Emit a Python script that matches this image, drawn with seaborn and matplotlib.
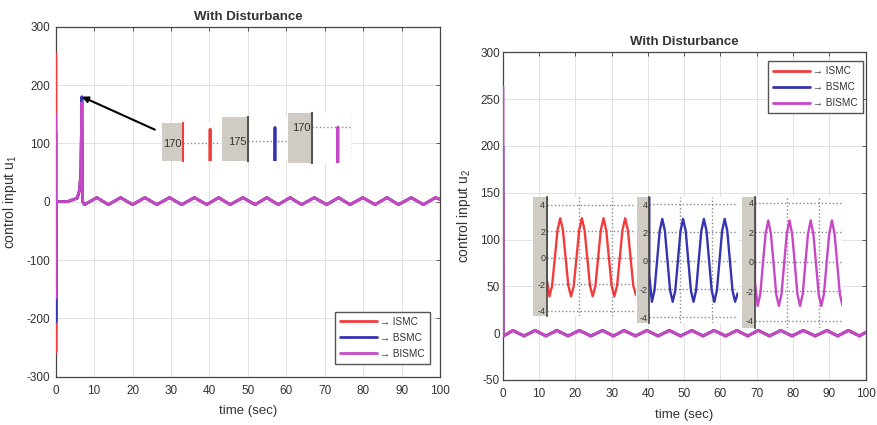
import numpy as np
import pandas as pd
import matplotlib
matplotlib.use("Agg")
import matplotlib.pyplot as plt
import seaborn as sns
from matplotlib.patches import Rectangle

# ---------------- data ----------------
methods = ["ISMC", "BSMC", "BISMC"]
legend_labels = ["\u2192 ISMC", "\u2192 BSMC", "\u2192 BISMC"]
colors = ["#f23c3c", "#3434b0", "#c648c6"]

# u1 : initial transient + spike
t_u1_start = [0.0, 0.02, 0.06, 0.15, 0.4, 3.0, 5.6, 6.2, 6.55, 6.8, 7.0]
u1_ismc_start = [0, 254, -258, 0, 0, 0, 6, 20, 50, 176, 0]
u1_bsmc_start = [0, 120, -206, 0, 0, 0, 6, 20, 50, 180, 0]
u1_bismc_start = [0, 150, -165, 0, 0, 0, 6, 20, 50, 170, 0]
# u1 : steady oscillation (troughs / peaks)
t_u1_wave = [7.5, 10.7, 13.7, 16.9, 20.0, 23.2, 26.3, 29.6, 32.8, 36.1, 39.3,
             42.4, 45.4, 48.7, 51.9, 54.9, 57.9, 61.0, 64.0, 67.3, 70.5, 73.6,
             76.6, 79.9, 83.1, 86.2, 89.2, 92.5, 95.7, 98.8, 100.0]
u1_wave = [-5, 7, -5, 7, -5, 7, -5, 7, -5, 7, -5, 7, -5, 7, -5, 7, -5, 7,
           -5, 7, -5, 7, -5, 7, -5, 7, -5, 7, -5, 7, 4]

# u2 : initial spike
t_u2_start = [0.0, 0.03, 0.08]
u2_ismc_start = [0, 150, 0]
u2_bsmc_start = [0, 200, 0]
u2_bismc_start = [0, 263, 0]
# u2 : steady oscillation
t_u2_wave = [0.3, 2.8, 5.9, 8.9, 11.9, 14.9, 18.0, 21.1, 24.3, 27.5, 30.5,
             33.4, 36.6, 39.7, 42.8, 45.9, 49.0, 52.1, 55.2, 58.2, 61.4, 64.5,
             67.5, 70.4, 73.5, 76.6, 79.7, 82.8, 86.1, 89.3, 92.3, 95.2, 98.3,
             100.0]
u2_wave = [-3, 3, -3, 3, -3, 3, -3, 3, -3, 3, -3, 3, -3, 3, -3, 3, -3, 3,
           -3, 3, -3, 3, -3, 3, -3, 3, -3, 3, -3, 3, -3, 3, -3, 1]

# zoomed u2 insets (samples every 1/8 period)
ins_ismc = [6.0, -1.6,
            -2.9, -2.1, 0.0, 2.1, 3.0, 2.1, 0.0, -2.1,
            -2.9, -2.1, 0.0, 2.1, 3.0, 2.1, 0.0, -2.1,
            -2.9, -2.1, 0.0, 2.1, 3.0, 2.1, 0.0, -2.1,
            -2.9, -2.1, 0.0, 2.1, 3.0, 2.1, 0.0, -2.1,
            -2.8]
ins_bsmc = [6.0, -1.0,
            -2.9, -2.1, 0.0, 2.1, 2.95, 2.1, 0.0, -2.1,
            -2.9, -2.1, 0.0, 2.1, 2.95, 2.1, 0.0, -2.1,
            -2.9, -2.1, 0.0, 2.1, 2.95, 2.1, 0.0, -2.1,
            -2.9, -2.1, 0.0, 2.1, 2.95, 2.1, 0.0, -2.1,
            -2.9, -2.3]
ins_bismc = [6.0, -1.4,
             -3.0, -2.2, -0.1, 1.9, 2.8, 1.9, -0.1, -2.2,
             -3.0, -2.2, -0.1, 1.9, 2.8, 1.9, -0.1, -2.2,
             -3.0, -2.2, -0.1, 1.9, 2.8, 1.9, -0.1, -2.2,
             -3.0, -2.2, -0.1, 1.9, 2.8, 1.9, -0.1, -2.2,
             -3.0]

u1_y_ticks = [-300, -200, -100, 0, 100, 200, 300]
u2_y_ticks = [-50, 0, 50, 100, 150, 200, 250, 300]
x_ticks = [0, 10, 20, 30, 40, 50, 60, 70, 80, 90, 100]
spike_ticks = [170, 175, 170]
inset_ticks = [-4, -2, 0, 2, 4]


def long_frame(t_start, starts, t_wave, wave):
    parts = []
    for m, s in zip(methods, starts):
        parts.append(pd.DataFrame({"t": list(t_start) + list(t_wave),
                                   "u": list(s) + list(wave),
                                   "method": m}))
    return pd.concat(parts, ignore_index=True)


df1 = long_frame(t_u1_start, [u1_ismc_start, u1_bsmc_start, u1_bismc_start],
                 t_u1_wave, u1_wave)
df2 = long_frame(t_u2_start, [u2_ismc_start, u2_bsmc_start, u2_bismc_start],
                 t_u2_wave, u2_wave)

# ---------------- styling ----------------
sns.set_theme(style="white")
plt.rcParams["font.family"] = ["Liberation Sans", "DejaVu Sans"]
plt.rcParams["text.color"] = "#333333"
plt.rcParams["axes.labelcolor"] = "#333333"
plt.rcParams["axes.unicode_minus"] = False
plt.rcParams["lines.solid_joinstyle"] = "round"

W, H = 878, 425
fig = plt.figure(figsize=(W / 100, H / 100), dpi=100)
fig.patch.set_facecolor("white")


def frac(x0, y0, x1, y1):
    return [x0 / W, 1 - y1 / H, (x1 - x0) / W, (y1 - y0) / H]


ax1 = fig.add_axes(frac(55.7, 26.7, 440.0, 376.7))
ax2 = fig.add_axes(frac(502.7, 52.3, 865.7, 380.0))


def style_main(ax, yticks, ylim, ylabel, ypad, ylabelpad):
    ax.set_xlim(0, 100)
    ax.set_ylim(*ylim)
    ax.set_xticks(x_ticks)
    ax.set_yticks(yticks)
    ax.grid(True, color="#e2e2e2", lw=0.7)
    ax.set_axisbelow(True)
    ax.tick_params(direction="in", top=True, right=True, length=3,
                   width=0.7, color="#555555", labelcolor="#333333",
                   labelsize=8.5)
    ax.tick_params(axis="x", pad=6)
    ax.tick_params(axis="y", pad=ypad)
    for s in ax.spines.values():
        s.set_color("#444444")
        s.set_linewidth(0.9)
    ax.set_xlabel("time (sec)", fontsize=9.5, labelpad=6)
    ax.set_ylabel(ylabel, fontsize=10, labelpad=ylabelpad)
    ax.set_title("With Disturbance", fontsize=9.5, fontweight="bold", pad=5)


for ax, df in ((ax1, df1), (ax2, df2)):
    sns.lineplot(data=df, x="t", y="u", hue="method", hue_order=methods,
                 palette=colors, estimator=None, sort=False, linewidth=2,
                 ax=ax, zorder=3)

style_main(ax1, u1_y_ticks, (-300, 300), "control input u$\\mathregular{_1}$", 4, 5)
style_main(ax2, u2_y_ticks, (-50, 300), "control input u$\\mathregular{_2}$", 2, 5)

# legends
for ax, anchor in ((ax1, (0.727, 0.186)), (ax2, (0.731, 0.973))):
    handles, labels = ax.get_legend_handles_labels()
    lab_map = dict(zip(methods, legend_labels))
    ax.legend(handles, [lab_map[l] for l in labels], loc="upper left",
              bbox_to_anchor=anchor, borderaxespad=0, fontsize=7.2,
              handlelength=3.7, labelspacing=0.6, borderpad=0.5,
              handletextpad=0.3, fancybox=False, framealpha=1,
              edgecolor="#555555", frameon=True)

# arrow pointing at spike
ax1.annotate("", xy=(6.8, 180), xytext=(25.8, 123.5),
             arrowprops=dict(arrowstyle="-|>", color="black", lw=1.5,
                             mutation_scale=9, shrinkA=0, shrinkB=0),
             zorder=10)

GRAY = "#d0ccc3"

# ---------- zoomed spike insets (left panel) ----------
spike_boxes = [
    # gray box, plot area, xfrac of spike, ylim, spine colour
    ((161.7, 122.7, 183.3, 161.0), (183.3, 122.7, 220.0, 161.0), 0.73, (162.0, 178.8), colors[0]),
    ((221.7, 116.7, 248.3, 161.0), (248.3, 116.7, 288.3, 161.0), 0.667, (167.8, 183.9), "#555555"),
    ((288.0, 113.0, 311.7, 163.0), (311.7, 113.0, 351.7, 163.0), 0.655, (155.6, 175.6), "#555555"),
]
t_peak = t_u1_start[-2]
for i, (m, c) in enumerate(zip(methods, colors)):
    gbox, pbox, xf, ylim, sc = spike_boxes[i]
    ax1.add_patch(Rectangle((gbox[0] / W, 1 - gbox[3] / H),
                            (gbox[2] - gbox[0]) / W, (gbox[3] - gbox[1]) / H,
                            transform=fig.transFigure, facecolor=GRAY,
                            edgecolor="none", zorder=6, clip_on=False))
    ins = fig.add_axes(frac(*pbox))
    ins.set_facecolor("white")
    sub = df1[df1["method"] == m]
    sns.lineplot(data=sub, x="t", y="u", color=c, estimator=None, sort=False,
                 linewidth=2, ax=ins, legend=False)
    width = 6.0
    xlo = t_peak - xf * width
    ins.set_xlim(xlo, xlo + width)
    ins.set_ylim(*ylim)
    ins.set_yticks([spike_ticks[i]])
    ins.set_yticklabels([str(spike_ticks[i])])
    if i == 2:
        ins.set_xticks([xlo + width])
        ins.xaxis.grid(True, color="#888888", ls=":", lw=1.0)
    else:
        ins.set_xticks([])
    ins.yaxis.grid(True, color="#888888", ls=":", lw=1.0)
    ins.tick_params(axis="x", length=0, labelbottom=False)
    ins.tick_params(axis="y", direction="in", length=2.5, width=0.8,
                    color="#333333", labelsize=8, labelcolor="#333333", pad=1)
    ins.set_xlabel("")
    ins.set_ylabel("")
    for k, s in ins.spines.items():
        s.set_visible(k == "left")
    ins.spines["left"].set_color(sc)
    ins.spines["left"].set_linewidth(1.5)

# ---------- zoomed steady-state insets (right panel) ----------
wave_boxes = [
    ((532.7, 197.3, 546.7, 316.0), (546.7, 197.3, 636.0, 316.0), (-4.38, 4.58)),
    ((637.3, 196.7, 649.3, 323.3), (649.3, 196.7, 737.7, 323.3), (-4.42, 4.52)),
    ((741.7, 196.7, 755.0, 328.3), (755.0, 196.7, 842.5, 328.3), (-4.52, 4.41)),
]
for i, (vals, c) in enumerate(zip([ins_ismc, ins_bsmc, ins_bismc], colors)):
    gbox, pbox, ylim = wave_boxes[i]
    ax2.add_patch(Rectangle((gbox[0] / W, 1 - gbox[3] / H),
                            (gbox[2] - gbox[0]) / W, (gbox[3] - gbox[1]) / H,
                            transform=fig.transFigure, facecolor=GRAY,
                            edgecolor="none", zorder=6, clip_on=False))
    ins = fig.add_axes(frac(*pbox))
    ins.set_facecolor("white")
    xs = np.r_[0, np.arange(len(vals) - 1)]
    sns.lineplot(x=xs, y=vals, color=c, estimator=None, sort=False,
                 linewidth=1.7, ax=ins, legend=False)
    ins.set_xlim(0, xs[-1])
    ins.set_ylim(*ylim)
    ins.set_yticks(inset_ticks)
    ins.set_yticklabels([str(v) for v in inset_ticks])
    ins.set_xticks([12, 24])
    ins.grid(True, color="#888888", ls=":", lw=1.0)
    ins.tick_params(axis="x", length=0, labelbottom=False)
    ins.tick_params(axis="y", direction="in", length=2.5, width=0.8,
                    color="#333333", labelsize=6.5, labelcolor="#333333", pad=1)
    for k, s in ins.spines.items():
        s.set_visible(k == "left")
    ins.spines["left"].set_color("#444444")
    ins.spines["left"].set_linewidth(1.2)

fig.savefig("out.png", dpi=100, facecolor="white")
